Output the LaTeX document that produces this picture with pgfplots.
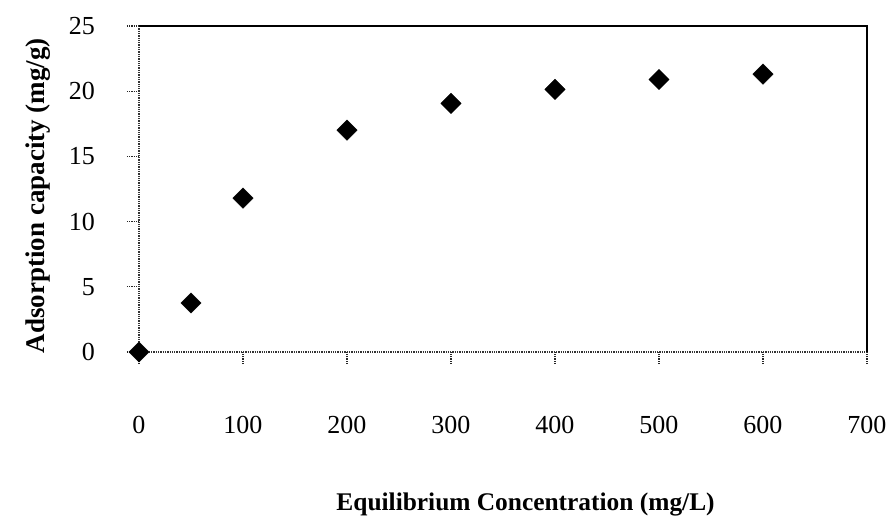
\documentclass[border=0pt]{standalone}
\usepackage{fontspec}
\setmainfont{Liberation Serif}
\usepackage{pgfplots}
\pgfplotsset{compat=1.18}

% Adsorption isotherm: equilibrium concentration vs. adsorption capacity
\pgfplotstableread{
ce   qe
0    0.00
50   3.76
100  11.80
200  17.01
300  19.06
400  20.14
500  20.90
600  21.31
}\isotherm

\begin{document}
\fontsize{26}{30}\selectfont
\begin{tikzpicture}
\path[use as bounding box] (-139pt,-168pt) rectangle (753pt,352pt);
\begin{axis}[
  at={(0,0)}, anchor=south west,
  scale only axis, width=728pt, height=326pt,
  xmin=0, xmax=700, ymin=0, ymax=25,
  xtick={0,100,...,700}, ytick={0,5,...,25},
  tick align=outside, xtick pos=left, ytick pos=left,
  major tick length=12pt,
  every tick/.style={black!85, densely dotted, line width=1.2pt},
  axis line style={draw=none},
  clip=false,
  /pgf/number format/assume math mode=true,
  tick label style={font=\fontsize{26}{30}\selectfont},
  xticklabel style={anchor=center, yshift=-61pt},
  yticklabel style={anchor=east, inner sep=0pt, xshift=-32pt},
  xlabel={\bfseries Equilibrium Concentration (mg/L)},
  ylabel={\bfseries Adsorption capacity (mg/g)},
  xlabel style={font=\fontsize{25.4}{30}\selectfont,
    at={(axis description cs:0.531,-0.469)}, anchor=center},
  ylabel style={font=\fontsize{27}{30}\selectfont,
    at={(axis description cs:-0.1387,0.48)}, anchor=center},
]
  % frame: dotted left/bottom, solid top/right
  \draw[black!80, densely dotted, line width=1.3pt]
    (rel axis cs:0,1) -- (rel axis cs:0,0) -- (rel axis cs:1,0);
  \draw[black, line width=1.5pt]
    (rel axis cs:0,1) -- (rel axis cs:1,1) -- (rel axis cs:1,0);
  \addplot[only marks, mark=square*, mark size=7.2pt,
    mark options={rotate=45, fill=black, draw=black}]
    table[x=ce, y=qe] {\isotherm};
\end{axis}
\end{tikzpicture}
\end{document}
